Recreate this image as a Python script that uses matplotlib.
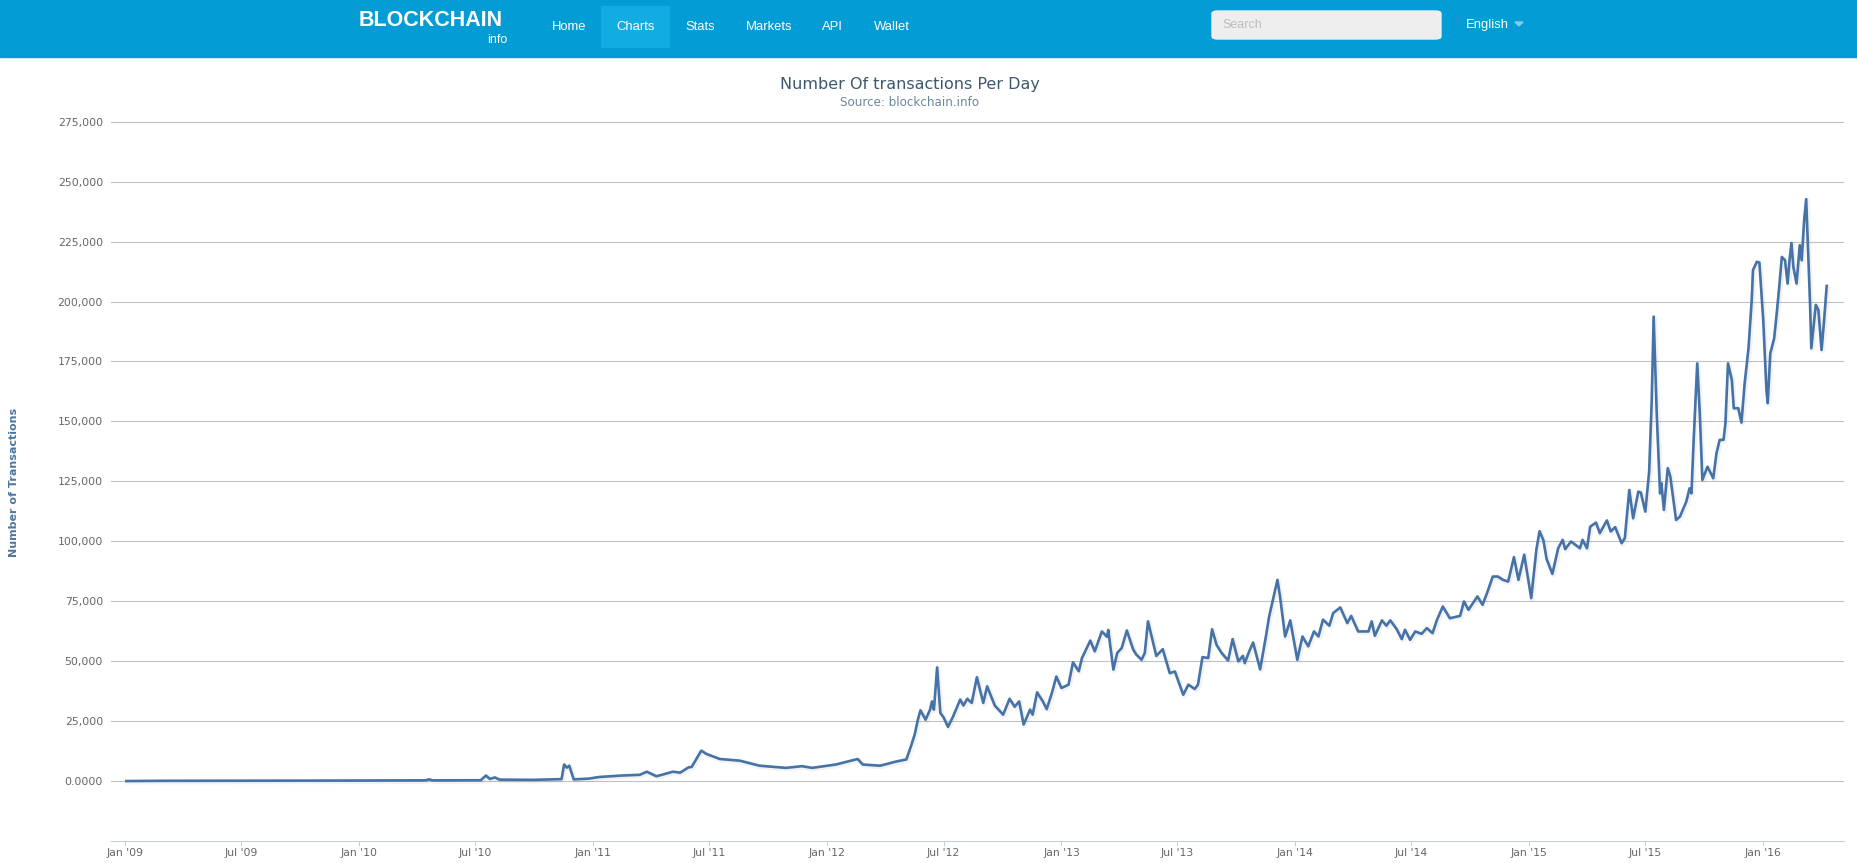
import matplotlib
matplotlib.use("Agg")
import matplotlib.pyplot as plt
import matplotlib.patheffects as pe
from matplotlib.patches import Rectangle, FancyBboxPatch, Polygon
import pandas as pd

# values
dates = [
    "2009-01-03", "2009-03-01", "2009-06-01", "2009-09-01", "2009-12-01", "2010-03-01",
    "2010-04-15", "2010-04-20", "2010-04-26", "2010-07-10", "2010-07-18", "2010-07-24",
    "2010-08-01", "2010-08-08", "2010-10-01", "2010-11-13", "2010-11-17", "2010-11-21",
    "2010-11-25", "2010-12-02", "2010-12-25", "2011-01-11", "2011-02-15", "2011-03-15",
    "2011-03-26", "2011-04-10", "2011-05-06", "2011-05-17", "2011-05-30", "2011-06-04",
    "2011-06-19", "2011-06-27", "2011-07-18", "2011-08-18", "2011-09-18", "2011-10-29",
    "2011-11-23", "2011-12-09", "2012-01-15", "2012-02-18", "2012-02-26", "2012-03-24",
    "2012-04-19", "2012-05-04", "2012-05-12", "2012-05-17", "2012-05-22", "2012-05-26",
    "2012-06-03", "2012-06-10", "2012-06-13", "2012-06-16", "2012-06-21", "2012-06-26",
    "2012-07-01", "2012-07-08", "2012-07-16", "2012-07-27", "2012-08-01", "2012-08-07",
    "2012-08-14", "2012-08-22", "2012-09-01", "2012-09-07", "2012-09-19", "2012-10-02",
    "2012-10-12", "2012-10-20", "2012-10-27", "2012-11-03", "2012-11-13", "2012-11-17",
    "2012-11-24", "2012-12-03", "2012-12-09", "2012-12-17", "2012-12-24", "2013-01-01",
    "2013-01-12", "2013-01-19", "2013-01-28", "2013-02-02", "2013-02-15", "2013-02-22",
    "2013-03-05", "2013-03-13", "2013-03-15", "2013-03-23", "2013-03-29", "2013-04-05",
    "2013-04-13", "2013-04-23", "2013-04-28", "2013-05-06", "2013-05-11", "2013-05-16",
    "2013-05-29", "2013-06-08", "2013-06-19", "2013-06-27", "2013-07-10", "2013-07-18",
    "2013-07-28", "2013-08-02", "2013-08-09", "2013-08-18", "2013-08-24", "2013-08-31",
    "2013-09-08", "2013-09-18", "2013-09-25", "2013-10-04", "2013-10-11", "2013-10-14",
    "2013-10-21", "2013-10-27", "2013-11-07", "2013-11-16", "2013-11-21", "2013-11-27",
    "2013-12-04", "2013-12-08", "2013-12-16", "2013-12-24", "2014-01-04", "2014-01-12",
    "2014-01-21", "2014-01-30", "2014-02-06", "2014-02-13", "2014-02-23", "2014-03-01",
    "2014-03-12", "2014-03-23", "2014-03-29", "2014-04-09", "2014-04-25", "2014-04-30",
    "2014-05-05", "2014-05-16", "2014-05-23", "2014-05-29", "2014-06-08", "2014-06-16",
    "2014-06-21", "2014-06-29", "2014-07-07", "2014-07-17", "2014-07-25", "2014-08-03",
    "2014-08-10", "2014-08-19", "2014-08-30", "2014-09-15", "2014-09-21", "2014-09-28",
    "2014-10-12", "2014-10-20", "2014-10-27", "2014-11-05", "2014-11-13", "2014-11-21",
    "2014-11-29", "2014-12-08", "2014-12-15", "2014-12-24", "2015-01-04", "2015-01-12",
    "2015-01-17", "2015-01-23", "2015-01-28", "2015-02-06", "2015-02-15", "2015-02-22",
    "2015-02-26", "2015-03-07", "2015-03-21", "2015-03-25", "2015-04-01", "2015-04-06",
    "2015-04-15", "2015-04-21", "2015-05-02", "2015-05-08", "2015-05-15", "2015-05-25",
    "2015-05-30", "2015-06-06", "2015-06-12", "2015-06-20", "2015-06-24", "2015-07-01",
    "2015-07-07", "2015-07-11", "2015-07-14", "2015-07-19", "2015-07-24", "2015-07-26",
    "2015-07-30", "2015-08-05", "2015-08-09", "2015-08-18", "2015-08-24", "2015-09-03",
    "2015-09-08", "2015-09-11", "2015-09-14", "2015-09-20", "2015-09-24", "2015-09-28",
    "2015-10-06", "2015-10-15", "2015-10-20", "2015-10-25", "2015-10-31", "2015-11-03",
    "2015-11-07", "2015-11-13", "2015-11-16", "2015-11-23", "2015-11-28", "2015-12-03",
    "2015-12-09", "2015-12-14", "2015-12-16", "2015-12-22", "2015-12-26", "2016-01-01",
    "2016-01-06", "2016-01-08", "2016-01-12", "2016-01-18", "2016-01-22", "2016-01-26",
    "2016-01-30", "2016-02-04", "2016-02-08", "2016-02-11", "2016-02-14", "2016-02-17",
    "2016-02-22", "2016-02-27", "2016-03-01", "2016-03-05", "2016-03-08", "2016-03-11",
    "2016-03-14", "2016-03-16", "2016-03-23", "2016-03-27", "2016-04-01", "2016-04-05",
    "2016-04-09",
]
transactions = [
    1, 100, 120, 150, 200, 250,
    300, 700, 300, 350, 2300, 900,
    1500, 600, 500, 800, 6900, 5600,
    6400, 700, 1000, 1700, 2300, 2600,
    3900, 2000, 3900, 3500, 5700, 5900,
    12700, 11300, 9200, 8500, 6400, 5500,
    6200, 5500, 6900, 9200, 6900, 6400,
    8200, 9000, 15200, 19400, 25600, 29500,
    25600, 29800, 33200, 29800, 47400, 28400,
    26600, 22600, 27000, 34000, 31500, 34300,
    32600, 43300, 32600, 39500, 31500, 27700,
    34300, 31000, 33200, 23600, 29800, 27700,
    37000, 33200, 30000, 36700, 43600, 38800,
    40200, 49500, 45800, 51300, 58600, 54100,
    62400, 60200, 63000, 46500, 53400, 55500,
    62800, 54800, 52700, 50600, 53400, 66600,
    52200, 55000, 45000, 45700, 36000, 40200,
    38400, 40200, 51700, 51300, 63300, 56800,
    53400, 50300, 59200, 49900, 52200, 49200,
    54100, 57800, 46600, 60300, 68600, 75600,
    83900, 77000, 60300, 67000, 50600, 60300,
    56200, 62400, 60300, 67300, 64800, 70100,
    72400, 65900, 68900, 62400, 62400, 66600,
    60600, 67000, 64800, 67000, 63400, 59200,
    63100, 58900, 62400, 61400, 63800, 61700,
    67300, 72800, 67900, 68900, 74900, 71400,
    77000, 73500, 78400, 85300, 85300, 83900,
    83200, 93400, 83900, 94400, 76300, 96500,
    104200, 100400, 92600, 86400, 97100, 100600,
    96700, 99900, 97100, 100600, 97100, 106100,
    107800, 103400, 108700, 104100, 105900, 99200,
    101300, 121400, 109600, 120700, 120300, 112400,
    129100, 158900, 193700, 152000, 120000, 124200,
    113100, 130500, 127000, 108900, 110300, 116600,
    122100, 120000, 139600, 174200, 153400, 125600,
    131100, 126300, 136700, 142300, 142300, 149200,
    174200, 167300, 155500, 155500, 149500, 165900,
    180500, 200600, 213100, 216600, 216200, 192300,
    163100, 157600, 178400, 184600, 195000, 206200,
    218600, 217200, 207500, 217200, 224400, 214400,
    207500, 223500, 217200, 234600, 242700, 221500,
    199300, 180500, 198600, 196500, 179800, 192300,
    206500,
]

tick_dates = ["2009-01-01", "2009-07-01", "2010-01-01", "2010-07-01", "2011-01-01",
              "2011-07-01", "2012-01-01", "2012-07-01", "2013-01-01", "2013-07-01",
              "2014-01-01", "2014-07-01", "2015-01-01", "2015-07-01", "2016-01-01"]
tick_labels = ["Jan '09", "Jul '09", "Jan '10", "Jul '10", "Jan '11", "Jul '11",
               "Jan '12", "Jul '12", "Jan '13", "Jul '13", "Jan '14", "Jul '14",
               "Jan '15", "Jul '15", "Jan '16"]
y_ticks = [0, 25000, 50000, 75000, 100000, 125000, 150000, 175000,
           200000, 225000, 250000, 275000]
y_labels = ["0.0000", "25,000", "50,000", "75,000", "100,000", "125,000", "150,000",
            "175,000", "200,000", "225,000", "250,000", "275,000"]

W, H = 1857, 863


def fx(x):
    return x / W


def fy(y):
    return 1 - y / H


fig = plt.figure(figsize=(W / 100, H / 100), dpi=100)
fig.patch.set_facecolor("white")

# --- site header bar ---
fig.patches.append(Rectangle((0, fy(57)), 1, 57 / H, transform=fig.transFigure,
                             color="#039cd4", zorder=0))
fig.patches.append(Rectangle((fx(601), fy(47)), 68 / W, 41 / H, transform=fig.transFigure,
                             color="#10ace2", zorder=1))
fig.text(fx(359), fy(21), "BLOCKCHAIN", family="Liberation Sans", fontweight="bold",
         fontsize=15.5, color="white", ha="left", va="center")
fig.text(fx(507), fy(40), "info", family="Liberation Sans", fontsize=9,
         color="white", ha="right", va="center")
for label, x in [("Home", 552), ("Charts", 616), ("Stats", 685), ("Markets", 746),
                 ("API", 822), ("Wallet", 874)]:
    fig.text(fx(x), fy(27), label, family="Liberation Sans", fontsize=9.4,
             color="white", ha="left", va="center")
fig.patches.append(FancyBboxPatch((fx(1212), fy(39)), 229 / W, 28 / H,
                                  boxstyle="round,pad=0,rounding_size=0.003",
                                  transform=fig.transFigure, color="#eeeeee", zorder=1))
fig.text(fx(1222), fy(25), "Search", family="Liberation Sans", fontsize=9,
         color="#bdbdbd", ha="left", va="center")
fig.text(fx(1466), fy(25), "English", family="Liberation Sans", fontsize=9.4,
         color="white", ha="left", va="center")
fig.patches.append(Polygon([(fx(1515), fy(22)), (fx(1523), fy(22)), (fx(1519), fy(26))],
                           closed=True, transform=fig.transFigure, color="#80cdeb"))

# --- chart ---
ax = fig.add_axes([fx(111), fy(841), (1844 - 111) / W, (841 - 121.7) / H])
ax.set_facecolor("white")

x = pd.to_datetime(dates)
ax.plot(x, transactions, color="#4572A7", lw=1.9, solid_joinstyle="round",
        path_effects=[pe.SimpleLineShadow(offset=(0.8, -0.8), shadow_color="black",
                                          alpha=0.05, linewidth=3.5),
                      pe.Normal()], zorder=3)

ax.set_ylim(-25000, 275000)
ax.set_xlim(pd.Timestamp("2008-12-10"), pd.Timestamp("2016-05-06"))

ax.set_yticks(y_ticks)
ax.set_yticklabels(y_labels)
ax.set_xticks(pd.to_datetime(tick_dates))
ax.set_xticklabels(tick_labels)

ax.grid(axis="y", color="#C0C0C0", lw=0.75, zorder=0)
ax.set_axisbelow(True)
for s in ["top", "right", "left"]:
    ax.spines[s].set_visible(False)
ax.spines["bottom"].set_color("#C0D0E0")
ax.spines["bottom"].set_linewidth(0.75)

ax.tick_params(axis="y", length=0, pad=5.8, labelsize=7.8, labelcolor="#666666")
ax.tick_params(axis="x", length=3.6, width=0.75, color="#C0D0E0", pad=1.5,
               labelsize=7.8, labelcolor="#666666")

fig.text(fx(910), fy(85), "Number Of transactions Per Day", fontsize=11.5,
         color="#3E576F", ha="center", va="center")
fig.text(fx(910), fy(102), "Source: blockchain.info", fontsize=8.6,
         color="#6D869F", ha="center", va="center")
fig.text(fx(14), fy(482), "Number of Transactions", rotation=90, fontsize=8,
         fontweight="bold", color="#4d759e", ha="center", va="center")

fig.savefig("out.png", dpi=100)
